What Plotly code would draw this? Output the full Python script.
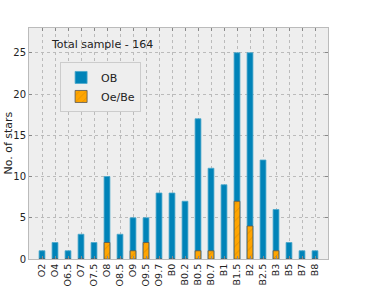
import plotly.graph_objects as go

categories = ["O2","O4","O6.5","O7","O7.5","O8","O8.5","O9","O9.5","O9.7","B0","B0.2",
              "B0.5","B0.7","B1","B1.5","B2","B2.5","B3","B5","B7","B8"]
ob_counts = [1,2,1,3,2,10,3,5,5,8,8,7,17,11,9,25,25,12,6,2,1,1]
oebe_counts = [0,0,0,0,0,2,0,1,2,0,0,0,1,1,0,7,4,0,1,0,0,0]
y_ticks = [0,5,10,15,20,25]

fig = go.Figure()
fig.add_trace(go.Bar(x=list(range(len(categories))), y=ob_counts, name="OB", width=0.45,
                     marker=dict(color="#0083b8", line=dict(color="#4aa8cc", width=0.8))))
fig.add_trace(go.Bar(x=list(range(len(categories))), y=oebe_counts, name="Oe/Be", width=0.45,
                     marker=dict(color="#ffa500", line=dict(color="#555555", width=0.8),
                                 pattern=dict(shape="/", fgcolor="#c07800", size=6, solidity=0.15))))

fig.update_layout(
    width=366, height=288, barmode="overlay",
    margin=dict(l=29, r=38, t=28, b=29, autoexpand=False),
    paper_bgcolor="white", plot_bgcolor="#eeeeee",
    font=dict(family="DejaVu Sans", size=10, color="#222222"),
    showlegend=True,
    legend=dict(x=0.104, y=0.853, xanchor="left", yanchor="top", bgcolor="#eeeeee",
                bordercolor="#cccccc", borderwidth=1, font=dict(size=11),
                tracegroupgap=2, itemwidth=30),
    annotations=[
        dict(text="Total sample - 164", x=0.067, y=0.965, xref="paper", yref="paper",
             xanchor="left", yanchor="top", showarrow=False, font=dict(size=11)),
        dict(text="No. of stars", x=-0.07, y=0.5, xref="paper", yref="paper",
             xanchor="center", yanchor="middle", textangle=-90, showarrow=False,
             font=dict(size=11)),
    ],
)
fig.update_xaxes(range=[-1, len(categories)], tickmode="array",
                 tickvals=list(range(len(categories))), ticktext=categories,
                 tickangle=-90, showgrid=True, gridcolor="#bbbbbb", griddash="dot",
                 gridwidth=0.8, showline=True, linecolor="#bbbbbb", mirror="ticks",
                 ticks="inside", ticklen=3, tickcolor="#888888", zeroline=False,
                 tickfont=dict(size=9.5), automargin=False)
fig.update_yaxes(range=[0, 28], tickmode="array", tickvals=y_ticks,
                 showgrid=True, gridcolor="#bbbbbb", griddash="dot", gridwidth=0.8,
                 showline=True, linecolor="#bbbbbb", mirror="ticks", zeroline=False,
                 ticks="inside", ticklen=3, tickcolor="#888888",
                 tickfont=dict(size=10), automargin=False)

fig.write_html("out.html", config={"displayModeBar": False},
               post_script="document.body.style.margin='0';")
